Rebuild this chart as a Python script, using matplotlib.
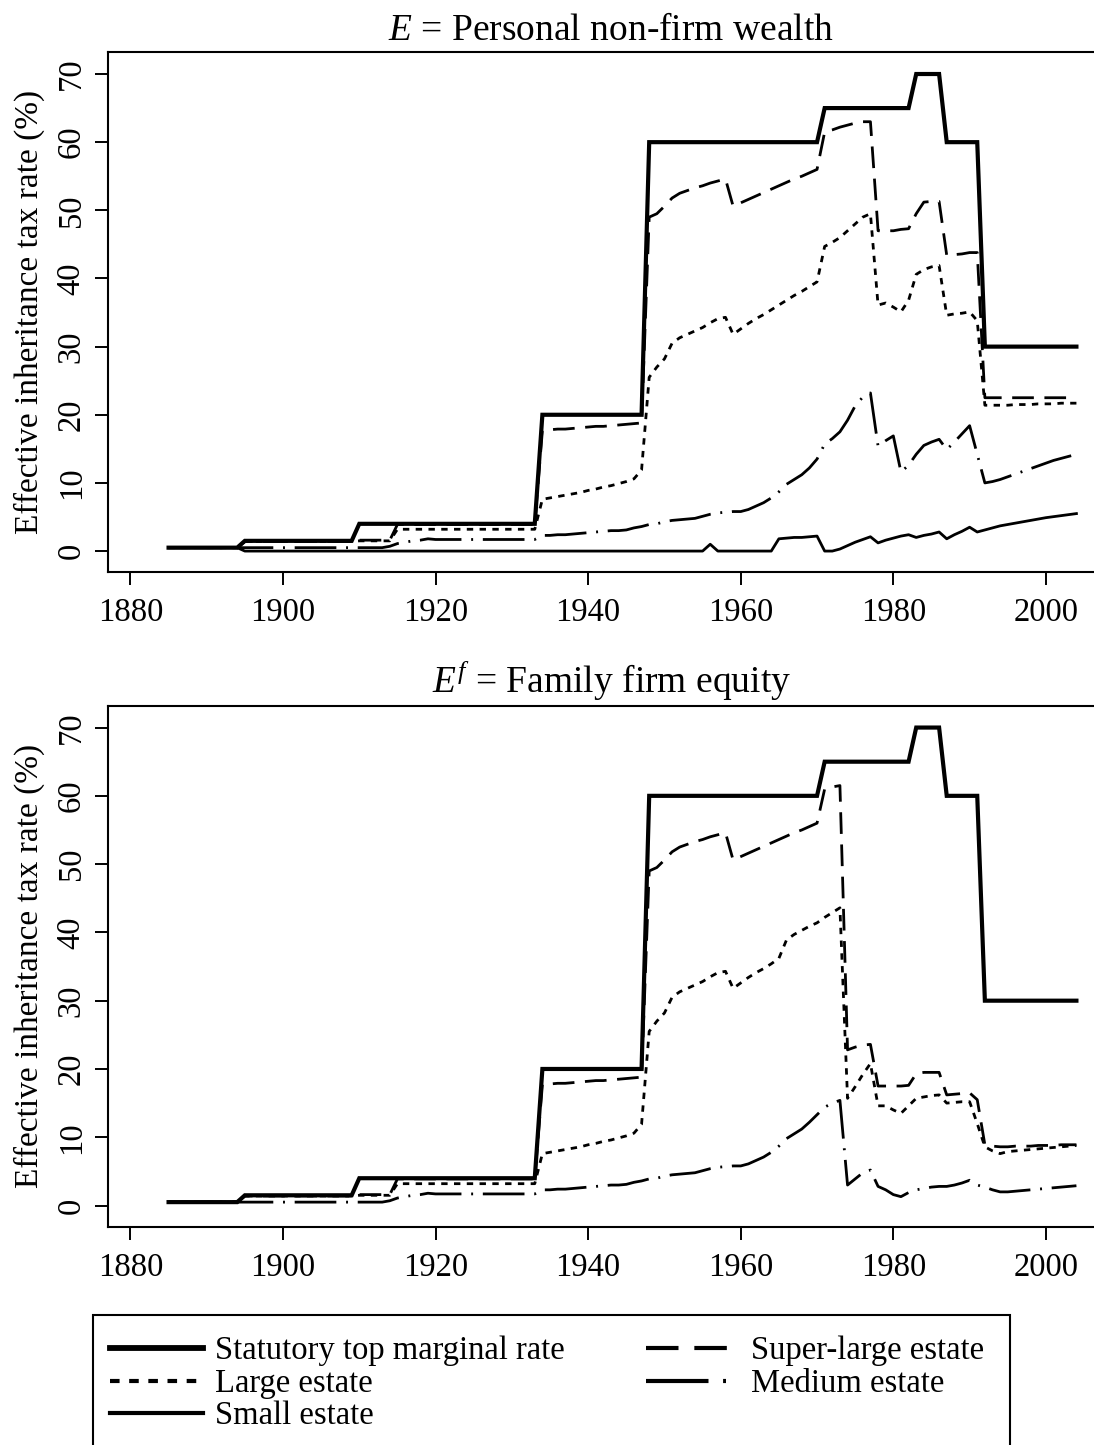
import numpy as np
import matplotlib
matplotlib.use("Agg")
import matplotlib.pyplot as plt
from matplotlib.patches import Rectangle

plt.rcParams['font.family'] = ['Liberation Serif', 'DejaVu Serif']
plt.rcParams['mathtext.fontset'] = 'custom'
plt.rcParams['mathtext.rm'] = 'Liberation Serif'
plt.rcParams['mathtext.it'] = 'Liberation Serif:italic'

years = np.arange(1885, 2005)

# --- E = personal non-firm wealth ---------------------------------------
statutory = [
    0.5, 0.5, 0.5, 0.5, 0.5, 0.5, 0.5, 0.5, 0.5, 0.5,        # 1885
    1.5, 1.5, 1.5, 1.5, 1.5, 1.5, 1.5, 1.5, 1.5, 1.5,        # 1895
    1.5, 1.5, 1.5, 1.5, 1.5, 4, 4, 4, 4, 4,                  # 1905
    4, 4, 4, 4, 4, 4, 4, 4, 4, 4,                            # 1915
    4, 4, 4, 4, 4, 4, 4, 4, 4, 20,                           # 1925
    20, 20, 20, 20, 20, 20, 20, 20, 20, 20,                  # 1935
    20, 20, 20, 60, 60, 60, 60, 60, 60, 60,                  # 1945
    60, 60, 60, 60, 60, 60, 60, 60, 60, 60,                  # 1955
    60, 60, 60, 60, 60, 60, 65, 65, 65, 65,                  # 1965
    65, 65, 65, 65, 65, 65, 65, 65, 70, 70,                  # 1975
    70, 70, 60, 60, 60, 60, 60, 30, 30, 30,                  # 1985
    30, 30, 30, 30, 30, 30, 30, 30, 30, 30,                  # 1995
]

superlarge_e = [
    0.5, 0.5, 0.5, 0.5, 0.5, 0.5, 0.5, 0.5, 0.5, 0.5,
    1.4, 1.4, 1.4, 1.4, 1.4, 1.4, 1.4, 1.4, 1.4, 1.4,
    1.4, 1.4, 1.4, 1.4, 1.4, 1.6, 1.6, 1.6, 1.6, 1.6,
    3.9, 3.9, 3.9, 3.9, 3.9, 3.9, 3.9, 3.9, 3.9, 3.9,
    3.9, 3.9, 3.9, 3.9, 3.9, 3.9, 3.9, 3.9, 3.9, 17.7,
    17.8, 17.9, 17.9, 18.0, 18.1, 18.2, 18.3, 18.3, 18.4, 18.5,
    18.6, 18.7, 18.8, 49.0, 49.5, 50.6, 51.8, 52.5, 52.9, 53.3,
    53.6, 54.0, 54.3, 54.6, 50.6, 51.1, 51.6, 52.1, 52.6, 53.1,
    53.6, 54.1, 54.6, 55.0, 55.5, 56.0, 61.5, 61.8, 62.2, 62.5,
    62.8, 63.0, 63.0, 47.0, 47.0, 47.0, 47.2, 47.3, 49.5, 51.2,
    51.3, 51.3, 43.4, 43.5, 43.6, 43.8, 43.8, 22.5, 22.5, 22.5,
    22.5, 22.5, 22.5, 22.5, 22.5, 22.5, 22.5, 22.5, 22.5, 22.5,
]

large_e = [
    0.5, 0.5, 0.5, 0.5, 0.5, 0.5, 0.5, 0.5, 0.5, 0.5,
    1.4, 1.4, 1.4, 1.4, 1.4, 1.4, 1.4, 1.4, 1.4, 1.4,
    1.4, 1.4, 1.4, 1.4, 1.4, 1.5, 1.5, 1.5, 1.5, 1.5,
    3.2, 3.2, 3.2, 3.2, 3.2, 3.2, 3.2, 3.2, 3.2, 3.2,
    3.2, 3.2, 3.2, 3.2, 3.2, 3.2, 3.2, 3.2, 3.2, 7.6,
    7.8, 8.0, 8.2, 8.4, 8.6, 8.9, 9.1, 9.4, 9.6, 9.9,
    10.2, 10.6, 11.9, 25.5, 27.0, 28.2, 30.5, 31.3, 31.8, 32.3,
    32.8, 33.5, 34.1, 34.3, 31.8, 32.6, 33.4, 34.1, 34.7, 35.4,
    36.1, 36.8, 37.5, 38.1, 38.8, 39.5, 44.7, 45.3, 46.0, 47.0,
    48.0, 49.0, 49.5, 36.1, 36.4, 35.8, 35.1, 36.8, 40.6, 41.3,
    41.7, 41.9, 34.6, 34.8, 34.9, 35.1, 33.8, 21.4, 21.4, 21.4,
    21.4, 21.5, 21.5, 21.5, 21.6, 21.6, 21.6, 21.7, 21.7, 21.7,
]

medium_e = [
    0.5, 0.5, 0.5, 0.5, 0.5, 0.5, 0.5, 0.5, 0.5, 0.5,
    0.5, 0.5, 0.5, 0.5, 0.5, 0.5, 0.5, 0.5, 0.5, 0.5,
    0.5, 0.5, 0.5, 0.5, 0.5, 0.5, 0.5, 0.5, 0.5, 0.7,
    1.1, 1.3, 1.5, 1.6, 1.8, 1.7, 1.7, 1.7, 1.7, 1.7,
    1.7, 1.7, 1.7, 1.7, 1.7, 1.7, 1.7, 1.7, 1.7, 2.3,
    2.3, 2.4, 2.4, 2.5, 2.6, 2.7, 2.8, 2.9, 3.0, 3.0,
    3.1, 3.4, 3.6, 3.9, 4.0, 4.3, 4.5, 4.6, 4.7, 4.8,
    5.1, 5.4, 5.6, 5.7, 5.8, 5.8, 6.1, 6.6, 7.1, 7.8,
    8.7, 9.8, 10.5, 11.2, 12.2, 13.5, 15.7, 16.5, 17.5, 19.2,
    21.3, 22.6, 23.2, 15.4, 16.2, 16.9, 11.6, 12.6, 14.2, 15.5,
    16.0, 16.4, 14.9, 16.0, 17.2, 18.4, 14.2, 10.0, 10.2, 10.5,
    10.9, 11.3, 11.7, 12.1, 12.5, 12.9, 13.3, 13.6, 13.9, 14.2,
]

small_e = [
    0.5, 0.5, 0.5, 0.5, 0.5, 0.5, 0.5, 0.5, 0.5, 0.5,
    0, 0, 0, 0, 0, 0, 0, 0, 0, 0,
    0, 0, 0, 0, 0, 0, 0, 0, 0, 0,
    0, 0, 0, 0, 0, 0, 0, 0, 0, 0,
    0, 0, 0, 0, 0, 0, 0, 0, 0, 0,
    0, 0, 0, 0, 0, 0, 0, 0, 0, 0,
    0, 0, 0, 0, 0, 0, 0, 0, 0, 0,
    0, 1.0, 0, 0, 0, 0, 0, 0, 0, 0,
    1.8, 1.9, 2.0, 2.0, 2.1, 2.2, 0.0, 0.0, 0.3, 0.8,
    1.3, 1.7, 2.1, 1.2, 1.6, 1.9, 2.2, 2.4, 2.0, 2.3,
    2.5, 2.8, 1.8, 2.4, 2.9, 3.5, 2.8, 3.1, 3.4, 3.7,
    3.9, 4.1, 4.3, 4.5, 4.7, 4.9, 5.05, 5.2, 5.35, 5.5,
]

# --- E^f = family firm equity ------------------------------------------
superlarge_f = [
    0.5, 0.5, 0.5, 0.5, 0.5, 0.5, 0.5, 0.5, 0.5, 0.5,
    1.4, 1.4, 1.4, 1.4, 1.4, 1.4, 1.4, 1.4, 1.4, 1.4,
    1.4, 1.4, 1.4, 1.4, 1.4, 1.6, 1.6, 1.6, 1.6, 1.6,
    3.9, 3.9, 3.9, 3.9, 3.9, 3.9, 3.9, 3.9, 3.9, 3.9,
    3.9, 3.9, 3.9, 3.9, 3.9, 3.9, 3.9, 3.9, 3.9, 17.7,
    17.8, 17.9, 17.9, 18.0, 18.1, 18.2, 18.3, 18.3, 18.4, 18.5,
    18.6, 18.7, 18.8, 49.0, 49.5, 50.6, 51.8, 52.5, 52.9, 53.3,
    53.6, 54.0, 54.3, 54.6, 50.6, 51.1, 51.6, 52.1, 52.6, 53.1,
    53.6, 54.1, 54.6, 55.0, 55.5, 56.0, 61.0, 61.3, 61.5, 22.8,
    23.2, 23.5, 23.6, 17.5, 17.5, 17.5, 17.5, 17.6, 19.3, 19.5,
    19.5, 19.5, 16.2, 16.3, 16.4, 16.5, 15.5, 8.9, 8.7, 8.6,
    8.6, 8.7, 8.7, 8.7, 8.8, 8.8, 8.8, 8.9, 8.9, 8.9,
]

large_f = [
    0.5, 0.5, 0.5, 0.5, 0.5, 0.5, 0.5, 0.5, 0.5, 0.5,
    1.4, 1.4, 1.4, 1.4, 1.4, 1.4, 1.4, 1.4, 1.4, 1.4,
    1.4, 1.4, 1.4, 1.4, 1.4, 1.5, 1.5, 1.5, 1.5, 1.5,
    3.2, 3.2, 3.2, 3.2, 3.2, 3.2, 3.2, 3.2, 3.2, 3.2,
    3.2, 3.2, 3.2, 3.2, 3.2, 3.2, 3.2, 3.2, 3.2, 7.6,
    7.8, 8.0, 8.2, 8.4, 8.6, 8.9, 9.1, 9.4, 9.6, 9.9,
    10.2, 10.6, 11.9, 25.5, 27.0, 28.2, 30.5, 31.3, 31.8, 32.3,
    32.8, 33.5, 34.1, 34.3, 31.8, 32.6, 33.4, 34.1, 34.7, 35.4,
    36.2, 38.9, 39.7, 40.3, 40.9, 41.4, 42.2, 42.9, 43.6, 15.7,
    17.4, 19.2, 20.8, 14.6, 14.6, 14.0, 13.5, 14.6, 15.7, 15.9,
    16.1, 16.2, 15.0, 15.1, 15.2, 15.2, 12.0, 8.6, 8.0, 7.6,
    7.9, 8.0, 8.1, 8.2, 8.3, 8.4, 8.5, 8.6, 8.7, 8.8,
]

medium_f = [
    0.5, 0.5, 0.5, 0.5, 0.5, 0.5, 0.5, 0.5, 0.5, 0.5,
    0.5, 0.5, 0.5, 0.5, 0.5, 0.5, 0.5, 0.5, 0.5, 0.5,
    0.5, 0.5, 0.5, 0.5, 0.5, 0.5, 0.5, 0.5, 0.5, 0.7,
    1.1, 1.3, 1.5, 1.6, 1.8, 1.7, 1.7, 1.7, 1.7, 1.7,
    1.7, 1.7, 1.7, 1.7, 1.7, 1.7, 1.7, 1.7, 1.7, 2.3,
    2.3, 2.4, 2.4, 2.5, 2.6, 2.7, 2.8, 2.9, 3.0, 3.0,
    3.1, 3.4, 3.6, 3.9, 4.0, 4.3, 4.5, 4.6, 4.7, 4.8,
    5.1, 5.4, 5.6, 5.7, 5.8, 5.8, 6.1, 6.6, 7.1, 7.8,
    8.7, 9.8, 10.5, 11.2, 12.2, 13.3, 14.4, 15.0, 15.4, 3.0,
    3.9, 4.8, 5.2, 2.8, 2.3, 1.6, 1.3, 1.9, 2.3, 2.5,
    2.7, 2.8, 2.8, 3.0, 3.3, 3.7, 3.0, 2.7, 2.3, 2.0,
    2.0, 2.1, 2.2, 2.3, 2.4, 2.5, 2.6, 2.7, 2.8, 2.9,
]

labels = ["Statutory top marginal rate", "Super-large estate",
          "Large estate", "Medium estate", "Small estate"]

LW = 2.0
styles = {
    "stat":   dict(color="black", lw=3.0, solid_joinstyle="miter"),
    "super":  dict(color="black", lw=LW, dashes=(7.8, 3.8)),
    "large":  dict(color="black", lw=LW, dashes=(2.3, 2.3)),
    "medium": dict(color="black", lw=LW, dashes=(15, 3.5, 0.7, 3.5)),
    "small":  dict(color="black", lw=LW),
}

W, H = 1094, 1445
fig = plt.figure(figsize=(W / 100, H / 100), dpi=100)

def px_axes(left, top, right, bottom):
    return [left / W, 1 - bottom / H, (right - left) / W, (bottom - top) / H]

ax1 = fig.add_axes(px_axes(108.3, 52.2, 1113.8, 572.2))
ax2 = fig.add_axes(px_axes(108.3, 705.7, 1113.8, 1226.7))

panels = [
    (ax1, r"$E$ = Personal non-firm wealth", superlarge_e, large_e, medium_e, small_e),
    (ax2, r"$E^f$ = Family firm equity", superlarge_f, large_f, medium_f, None),
]

handles = {}
for ax, title, sl, lg, md, sm in panels:
    if sm is not None:
        handles["small"], = ax.plot(years, sm, **styles["small"])
    handles["medium"], = ax.plot(years, md, **styles["medium"])
    handles["large"], = ax.plot(years, lg, **styles["large"])
    handles["super"], = ax.plot(years, sl, **styles["super"])
    handles["stat"], = ax.plot(years, statutory, **styles["stat"])

    ax.set_xlim(1877.1, 2008.9)
    ax.set_ylim(-3.1, 73.2)
    ax.set_xticks(np.arange(1880, 2001, 20))
    ax.set_yticks(np.arange(0, 71, 10))
    ax.tick_params(direction="out", length=9.5, width=1.4, labelsize=23.5)
    ax.tick_params(axis="x", pad=9)
    ax.tick_params(axis="y", pad=6, labelrotation=90)
    for lab in ax.get_yticklabels():
        lab.set_va("center")
    for sp in ax.spines.values():
        sp.set_linewidth(1.5)
    ax.set_title(title, fontsize=27, pad=9)

fig.text(29 / W, 1 - 312 / H, "Effective inheritance tax rate (%)",
         rotation=90, ha="center", va="center", fontsize=24)
fig.text(29 / W, 1 - 966 / H, "Effective inheritance tax rate (%)",
         rotation=90, ha="center", va="center", fontsize=24)

# legend: R-style box whose lower edge falls below the picture
fig.patches.append(Rectangle((93 / W, 1 - 1470 / H), (1010 - 93) / W, (1470 - 1315) / H,
                             transform=fig.transFigure, fill=False,
                             edgecolor="black", lw=1.5))

order = ["stat", "large", "small", "super", "medium"]
names = {"stat": labels[0], "super": labels[1], "large": labels[2],
         "medium": labels[3], "small": labels[4]}
leg = fig.legend([handles[k] for k in order], [names[k] for k in order],
                 loc="upper left", bbox_to_anchor=(110 / W, 1 - 1336 / H),
                 ncol=2, fontsize=23.5, frameon=False, borderaxespad=0,
                 borderpad=0, handlelength=2.85, handletextpad=0.36,
                 columnspacing=2.5, labelspacing=0.06)
for ln, k in zip(leg.get_lines(), order):
    ln.set_linewidth(4.2 if k == "stat" else 3.0)

fig.savefig("out.png", dpi=100)
